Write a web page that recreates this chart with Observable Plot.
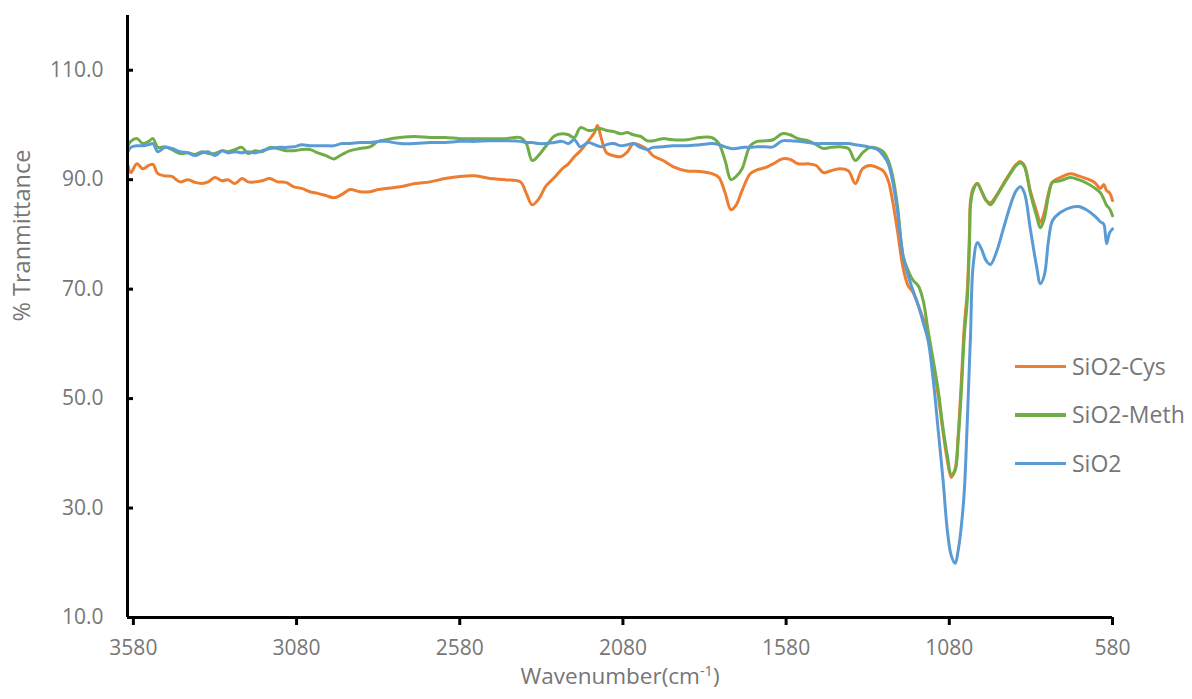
<!DOCTYPE html>
<html>
<head>
<meta charset="utf-8">
<script src="https://cdn.jsdelivr.net/npm/d3@7"></script>
<script src="https://cdn.jsdelivr.net/npm/@observablehq/plot@0.6"></script>
<style>
  body { margin: 0; background: #fff; }
  #wrap { position: relative; width: 1192px; height: 699px; font-family: 'Open Sans', sans-serif; }
  #legend { position: absolute; left: 1015px; top: 342px; }
  .row { display: flex; align-items: center; height: 48.5px; }
  .bar { width: 51px; height: 3.5px; margin-right: 6px; }
  .lab { font-size: 23px; line-height: 1; color: #767676; white-space: nowrap; }
</style>
</head>
<body>
<div id="wrap"><div id="legend"></div></div>
<script>
// ---- data ----
const seriesNames = ["SiO2-Cys", "SiO2-Meth", "SiO2"];
const seriesColors = ["#ED7D31", "#70AD47", "#5B9BD5"];

const wavenumber = [3597,3588,3569,3551,3533,3520,3505,3483,3462,3437,3413,3391,3370,3351,3330,3308,3290,3269,3247,3229,3207,3186,3162,3138,3113,3088,3064,3039,3015,2990,2966,2941,2916,2886,2855,2830,2806,2763,2717,2671,2625,2579,2533,2487,2441,2394,2376,2358,2339,2315,2290,2266,2247,2229,2210,2186,2167,2158,2146,2130,2109,2087,2066,2048,2026,2005,1988,1957,1927,1884,1844,1807,1786,1767,1749,1733,1715,1690,1669,1644,1620,1592,1568,1543,1512,1488,1466,1445,1414,1389,1368,1346,1322,1300,1282,1267,1254,1239,1221,1206,1191,1175,1160,1145,1129,1114,1099,1086,1074,1062,1053,1043,1034,1025,1018,1015,1007,994,982,967,954,936,914,893,875,862,850,832,813,801,789,776,764,740,709,684,660,635,617,607,598,589,580];

const cys = [92.6,91.3,92.9,92.0,92.6,92.8,91.1,90.7,90.6,89.6,90.0,89.5,89.3,89.6,90.4,89.8,90.0,89.3,90.2,89.6,89.6,89.8,90.2,89.6,89.5,88.7,88.4,87.8,87.5,87.1,86.7,87.3,88.2,87.8,87.8,88.2,88.4,88.7,89.3,89.6,90.2,90.6,90.7,90.2,90.0,89.6,87.5,85.4,86.4,88.9,90.4,92.0,92.9,94.2,95.3,97.1,98.6,99.9,97.5,94.9,94.4,94.2,95.1,96.6,96.2,95.5,94.4,93.5,92.4,91.6,91.5,91.1,90.4,87.6,84.5,85.4,88.0,91.1,91.8,92.2,92.9,93.8,93.7,92.9,92.9,92.6,91.3,91.6,92.0,91.6,89.3,92.0,92.6,92.2,91.6,89.8,86.2,80.7,73.7,70.6,69.4,67.0,64.6,61.0,56.0,50.6,43.8,38.7,35.6,37.2,43.2,53.3,63.3,69.7,80.7,86.2,88.4,89.3,88.0,86.2,85.8,87.1,89.3,91.3,92.8,93.3,92.6,88.0,84.3,82.2,84.0,87.6,89.6,90.4,91.1,90.7,90.2,89.5,88.4,89.1,88.0,87.6,86.2];

const meth = [96.2,97.0,97.5,96.6,97.0,97.5,95.9,96.0,95.5,94.8,94.9,94.6,95.1,94.8,94.8,95.3,95.1,95.5,95.9,94.8,95.3,95.1,95.9,95.7,95.3,95.3,95.5,95.5,94.9,94.4,93.8,94.6,95.3,95.7,96.0,97.0,97.3,97.7,97.9,97.7,97.7,97.5,97.5,97.5,97.5,97.7,96.6,93.5,94.4,96.2,98.0,98.4,98.2,97.7,99.5,99.0,99.1,99.3,99.3,99.0,98.8,98.4,98.6,98.2,97.9,97.1,97.1,97.5,97.3,97.3,97.7,97.7,96.6,93.5,90.0,90.6,92.0,96.2,97.0,97.1,97.3,98.4,98.2,97.5,97.1,96.4,95.7,95.9,96.0,95.7,93.5,94.9,95.9,95.7,95.1,93.5,90.8,85.3,75.9,73.4,71.6,70.6,67.9,62.4,56.9,51.5,44.5,39.6,36.1,36.9,42.3,51.5,61.5,67.9,78.9,85.3,88.0,89.3,88.0,86.2,85.4,86.9,89.1,91.1,92.6,93.1,92.4,87.6,83.4,81.2,82.9,87.1,89.5,89.8,90.4,90.0,89.4,88.5,87.6,86.5,85.3,84.7,83.4];

const sio2 = [95.1,95.9,96.2,96.2,96.4,96.6,95.1,95.9,95.7,95.1,94.9,94.4,94.9,95.1,94.4,95.3,94.9,95.1,94.9,95.1,94.9,95.3,95.7,95.9,95.9,96.0,96.4,96.2,96.2,96.2,96.2,96.6,96.6,96.8,96.8,97.0,97.0,96.6,96.6,96.8,96.8,97.0,97.0,97.1,97.1,97.0,96.8,96.8,96.6,96.6,96.8,97.0,96.6,97.3,96.0,96.8,96.4,96.2,96.0,96.4,96.6,96.2,96.4,96.6,95.9,95.5,95.9,96.0,96.2,96.2,96.4,96.6,96.4,96.0,95.7,95.7,95.9,95.9,96.0,96.0,96.0,97.1,97.1,97.0,96.8,96.6,96.6,96.6,96.6,96.6,96.4,96.2,95.9,95.5,94.4,92.9,89.8,84.3,75.8,72.5,69.7,67.0,63.9,60.6,53.3,44.2,35.0,25.9,21.3,19.9,22.2,26.8,33.2,45.7,57.0,61.5,74.3,78.5,77.4,75.2,74.5,76.7,81.1,85.3,88.0,88.7,87.6,81.1,74.3,71.0,72.5,78.9,82.5,84.0,84.9,85.1,84.5,83.4,82.3,81.9,78.3,80.3,81.0];

const xTicks = [3580, 3080, 2580, 2080, 1580, 1080, 580];
const yTicks = [10, 30, 50, 70, 90, 110];
const xDomain = [3598, 580];
const yDomain = [10, 120];
const yTitle = "% Tranmittance";
const xTitleParts = ["Wavenumber(cm", "-1", ")"];

// ---- build table ----
const seriesValues = [cys, meth, sio2];
const rows = seriesNames.flatMap((name, i) =>
  wavenumber.map((w, j) => ({ series: name, wn: w, t: seriesValues[i][j] }))
);

const tickColor = "#767676";
const W = 1192, H = 699, ML = 127, MR = 80, MT = 15, MB = 82;

const chart = Plot.plot({
  width: W, height: H,
  marginLeft: ML, marginRight: MR, marginTop: MT, marginBottom: MB,
  style: { fontFamily: "'Open Sans', sans-serif", background: "white" },
  x: { domain: xDomain },
  y: { domain: yDomain },
  color: { domain: seriesNames, range: seriesColors },
  marks: [
    Plot.axisX({ ticks: xTicks, tickSize: 8, tickPadding: 15, tickFormat: d => String(d),
      fontSize: 21, fill: tickColor, stroke: "black", strokeWidth: 3, label: null }),
    Plot.axisY({ ticks: yTicks, tickSize: 0, tickPadding: 24, tickFormat: d3.format(".1f"),
      fontSize: 21, fill: tickColor, label: null }),
    Plot.tickY(yTicks, { y: d => d, stroke: "black", strokeWidth: 3, insetRight: W - ML - MR - 6 }),
    Plot.line(rows, { x: "wn", y: "t", z: "series", stroke: "series", strokeWidth: 3, curve: "catmull-rom" }),
    Plot.ruleX([xDomain[0]], { stroke: "black", strokeWidth: 3 }),
    Plot.ruleY([yDomain[0]], { stroke: "black", strokeWidth: 3 }),
    Plot.text([yTitle], { frameAnchor: "left", dx: -105, dy: 5, rotate: -90, fontSize: 23.5, fill: tickColor }),
    Plot.text([xTitleParts.join("")], { frameAnchor: "bottom", dy: 66, fontSize: 22.5, fill: tickColor })
  ]
});

// superscript for the x title
const full = xTitleParts.join("");
chart.querySelectorAll("text").forEach(t => {
  if (t.textContent === full) {
    t.textContent = "";
    const ns = "http://www.w3.org/2000/svg";
    const a = document.createElementNS(ns, "tspan"); a.textContent = xTitleParts[0];
    const b = document.createElementNS(ns, "tspan"); b.textContent = xTitleParts[1];
    b.setAttribute("font-size", "14.5"); b.setAttribute("dy", "-8");
    const c = document.createElementNS(ns, "tspan"); c.textContent = xTitleParts[2];
    c.setAttribute("dy", "8");
    t.append(a, b, c);
  }
});

const wrap = document.getElementById("wrap");
wrap.insertBefore(chart, wrap.firstChild);

// legend
const legend = document.getElementById("legend");
seriesNames.forEach((n, i) => {
  const row = document.createElement("div"); row.className = "row";
  const bar = document.createElement("div"); bar.className = "bar"; bar.style.background = seriesColors[i];
  const lab = document.createElement("span"); lab.className = "lab"; lab.textContent = n;
  row.append(bar, lab); legend.append(row);
});
</script>
</body>
</html>
